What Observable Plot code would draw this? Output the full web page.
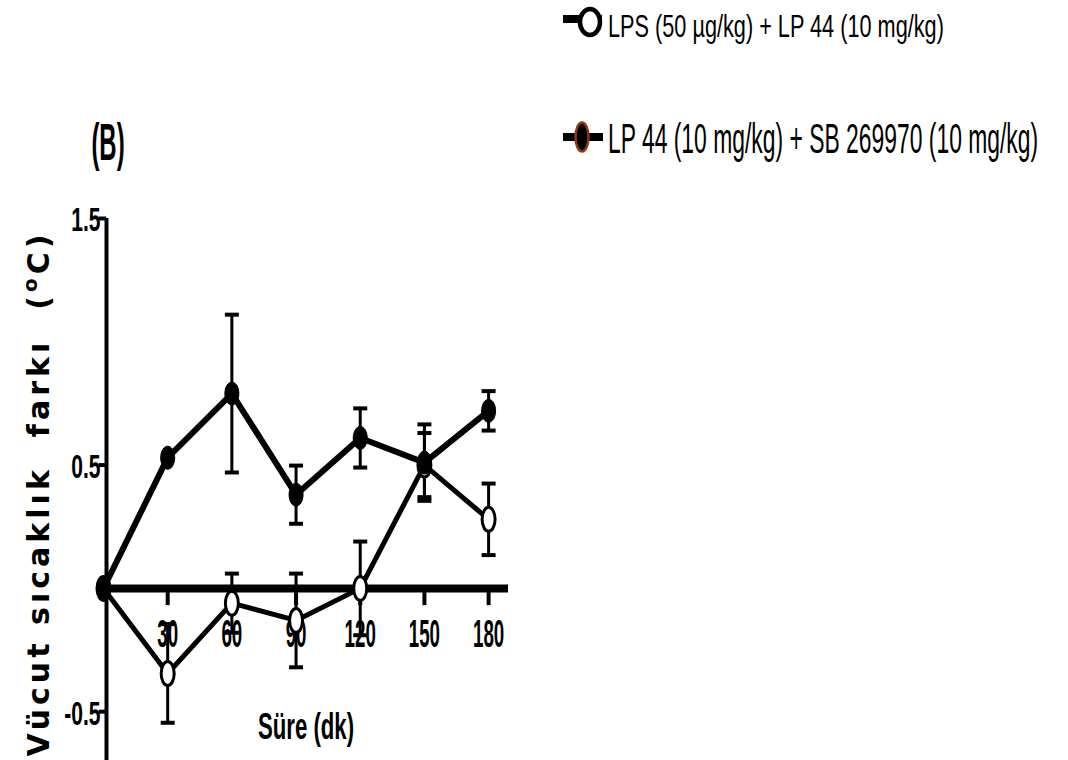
<!DOCTYPE html>
<html><head><meta charset="utf-8">
<script src="https://cdn.jsdelivr.net/npm/d3@7"></script>
<script src="https://cdn.jsdelivr.net/npm/@observablehq/plot@0.6"></script>
<style>
body{margin:0;background:#fff;}
#wrap{position:relative;width:1068px;height:760px;overflow:hidden;background:#fff;}
#wrap > svg{position:absolute;left:0;top:0;}
</style></head><body><div id="wrap"></div>
<script>
// ---- data ----
const times = [0, 30, 60, 90, 120, 150, 180];
const seriesNames = ["LPS (50 µg/kg) + LP 44 (10 mg/kg)", "LP 44 (10 mg/kg) + SB 269970 (10 mg/kg)"];
const lpsLp44 = [0, -0.345, -0.06, -0.13, 0, 0.50, 0.28];
const lpsLp44Err = [0, 0.20, 0.12, 0.19, 0.19, 0.13, 0.145];
const lp44Sb = [0, 0.53, 0.79, 0.38, 0.61, 0.51, 0.72];
const lp44SbErr = [0, 0, 0.32, 0.118, 0.12, 0.155, 0.08];
const xTicks = [30, 60, 90, 120, 150, 180];
const yTicks = [1.5, 0.5, -0.5];
const yTickLabels = ["1.5", "0.5", "-0.5"];
const xLabel = "Süre (dk)";
const yLabel = "Vücut sıcaklık  farkı  (ºC)";
const panelLabel = "(B)";

const rows = times.map((t, i) => ({t, open: lpsLp44[i], openErr: lpsLp44Err[i], filled: lp44Sb[i], filledErr: lp44SbErr[i]}));
const xMax = 189.3, yMin = -0.698, yMax = 1.5;

const ellipse = (rx, ry) => ({draw(ctx) {
  const k = 0.5523;
  ctx.moveTo(rx, 0);
  ctx.bezierCurveTo(rx, ry * k, rx * k, ry, 0, ry);
  ctx.bezierCurveTo(-rx * k, ry, -rx, ry * k, -rx, 0);
  ctx.bezierCurveTo(-rx, -ry * k, -rx * k, -ry, 0, -ry);
  ctx.bezierCurveTo(rx * k, -ry, rx, -ry * k, rx, 0);
  ctx.closePath();
}});
const cap = {draw(ctx) { ctx.moveTo(-7, -2); ctx.lineTo(7, -2); ctx.lineTo(7, 2); ctx.lineTo(-7, 2); ctx.closePath(); }};
const FONT = "'Liberation Sans', Arial, sans-serif";

const openE = rows.filter(d => d.openErr > 0);
const filledE = rows.filter(d => d.filledErr > 0);

const plot = Plot.plot({
  width: 1068, height: 760,
  marginLeft: 103, marginRight: 560, marginTop: 218, marginBottom: 0,
  x: {domain: [0, xMax], axis: null},
  y: {domain: [yMin, yMax], axis: null},
  style: {background: "transparent", overflow: "visible", fontFamily: FONT},
  marks: [
    // axes
    Plot.ruleX([0], {y1: yMin, y2: yMax, stroke: "black", strokeWidth: 4, dx: 3}),
    Plot.ruleY(yTicks, {y: d => d, x1: -2, x2: 1.5, stroke: "black", strokeWidth: 4}),
    Plot.ruleX(xTicks, {x: d => d, y1: 0, y2: -0.07, stroke: "black", strokeWidth: 4}),
    Plot.ruleY([0], {x1: 0, x2: xMax, stroke: "black", strokeWidth: 8}),
    // text marks (order matters for post-processing): 0 xtick, 1 ytick, 2 xlabel, 3 ylabel
    Plot.text(xTicks, {x: d => d, y: 0, dy: 46, text: d => String(d), fontSize: 39, fontWeight: "bold", lineAnchor: "middle"}),
    Plot.text(yTicks, {x: 0, y: d => d, dx: -3, dy: 2, text: (d, i) => yTickLabels[i], textAnchor: "end", lineAnchor: "middle", fontSize: 34, fontWeight: "bold"}),
    Plot.text([xLabel], {frameAnchor: "bottom", dy: -33, lineAnchor: "middle", textAnchor: "middle", fontSize: 37, fontWeight: "bold"}),
    Plot.text([yLabel], {frameAnchor: "left", rotate: -90, dx: -55, dy: 6, lineAnchor: "bottom", textAnchor: "middle", fontFamily: "'DejaVu Sans', sans-serif", fontWeight: "bold", fontSize: 30, text: d => d}),
    // error bars
    Plot.ruleX(openE, {x: "t", y1: d => d.open - d.openErr, y2: d => d.open + d.openErr, stroke: "black", strokeWidth: 3}),
    Plot.ruleX(filledE, {x: "t", y1: d => d.filled - d.filledErr, y2: d => d.filled + d.filledErr, stroke: "black", strokeWidth: 3}),
    Plot.dot(openE, {x: "t", y: d => d.open - d.openErr, symbol: cap, fill: "black", stroke: "none"}),
    Plot.dot(openE, {x: "t", y: d => d.open + d.openErr, symbol: cap, fill: "black", stroke: "none"}),
    Plot.dot(filledE, {x: "t", y: d => d.filled - d.filledErr, symbol: cap, fill: "black", stroke: "none"}),
    Plot.dot(filledE, {x: "t", y: d => d.filled + d.filledErr, symbol: cap, fill: "black", stroke: "none"}),
    // lines
    Plot.line(rows, {x: "t", y: "open", stroke: "black", strokeWidth: 5, strokeLinejoin: "miter"}),
    Plot.line(rows, {x: "t", y: "filled", stroke: "black", strokeWidth: 6, strokeLinejoin: "miter"}),
    // markers
    Plot.dot(rows, {x: "t", y: "open", symbol: ellipse(6.5, 12), fill: "white", stroke: "black", strokeWidth: 3}),
    Plot.dot(rows, {x: "t", y: "filled", symbol: ellipse(7, 11.5), fill: "black", stroke: "black", strokeWidth: 1})
  ]
});

const textGroups = Array.from(plot.querySelectorAll('g[aria-label="text"]'));

// condense narrow text
function squeeze(g, s) {
  if (!g) return;
  g.querySelectorAll("text").forEach(el => {
    const t = el.getAttribute("transform");
    if (t) el.setAttribute("transform", t + ` scale(${s},1)`);
    else {
      const x = +el.getAttribute("x") || 0, y = +el.getAttribute("y") || 0;
      el.removeAttribute("x"); el.removeAttribute("y");
      el.setAttribute("transform", `translate(${x},${y}) scale(${s},1)`);
    }
  });
}
squeeze(textGroups[0], 0.48);
squeeze(textGroups[1], 0.62);
squeeze(textGroups[2], 0.6);

// y label with superscript o and spaced letters
if (textGroups[3]) textGroups[3].querySelectorAll("text").forEach(el => {
  const full = el.textContent;
  const [a, b] = full.split("º");
  const sel = d3.select(el);
  sel.text(null).style("white-space", "pre");
  sel.append("tspan").text(a);
  sel.append("tspan").attr("baseline-shift", "super").attr("font-size", 20).text("o");
  sel.append("tspan").attr("baseline-shift", "0").text(b);
  el.setAttribute("textLength", 522);
  el.setAttribute("lengthAdjust", "spacing");
});

const wrap = document.getElementById("wrap");
wrap.appendChild(plot);

// overlay: panel label + legend
const ov = d3.select(wrap).append("svg").attr("width", 1068).attr("height", 760).style("font-family", FONT);
ov.append("text").attr("transform", "translate(108,160) scale(0.46,1)").attr("text-anchor", "middle")
  .attr("font-size", 52).attr("font-weight", "bold").text(panelLabel);
// legend item 1 (open)
ov.append("line").attr("x1", 563).attr("x2", 602).attr("y1", 19).attr("y2", 19).attr("stroke", "black").attr("stroke-width", 8);
ov.append("ellipse").attr("cx", 590).attr("cy", 22).attr("rx", 10).attr("ry", 13).attr("fill", "white").attr("stroke", "black").attr("stroke-width", 4.5);
ov.append("text").attr("transform", "translate(608,37) scale(0.70,1)").attr("font-size", 31).text(seriesNames[0]);
// legend item 2 (filled)
ov.append("line").attr("x1", 563).attr("x2", 603).attr("y1", 137).attr("y2", 137).attr("stroke", "black").attr("stroke-width", 8);
ov.append("ellipse").attr("cx", 582).attr("cy", 137).attr("rx", 6.5).attr("ry", 14.5).attr("fill", "black").attr("stroke", "#8B3A12").attr("stroke-width", 2.5);
ov.append("text").attr("transform", "translate(608,153) scale(0.545,1)").attr("font-size", 42).text(seriesNames[1]);
</script></body></html>
